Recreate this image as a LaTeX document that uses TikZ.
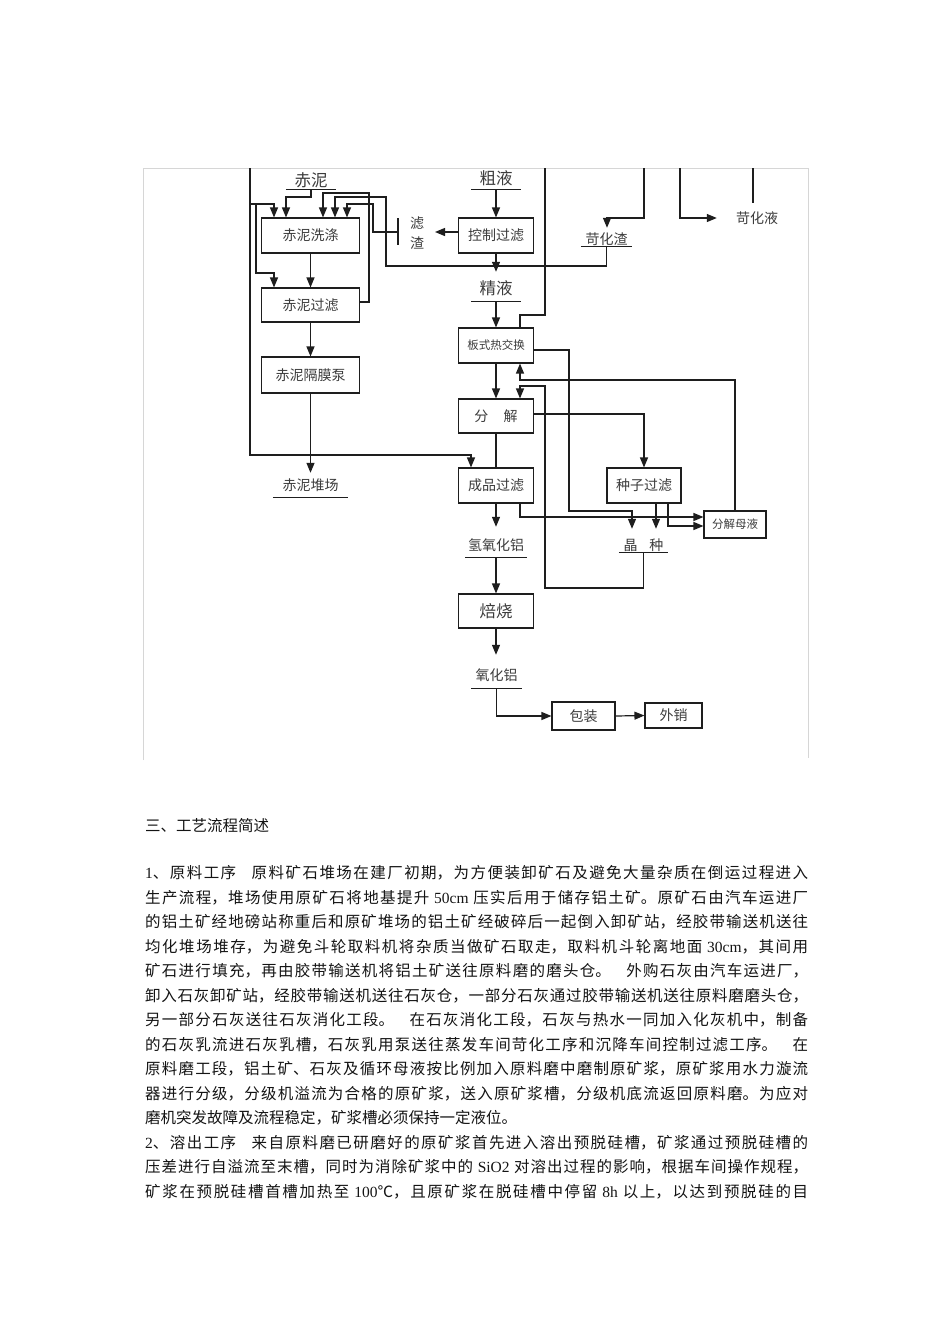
\documentclass[tikz,border=0pt]{standalone}
\usepackage{fontspec}
\setmainfont{Noto Sans CJK SC}
\newfontfamily\lat{Liberation Serif}
\usetikzlibrary{arrows.meta,calc}
\XeTeXlinebreaklocale "zh"
\XeTeXlinebreakskip=0pt plus 3pt minus 0.3pt
\definecolor{ln}{HTML}{1E1E1E}
\definecolor{tx}{HTML}{3C3C3C}
\definecolor{fr}{HTML}{D6D6D6}
\definecolor{bt}{HTML}{141414}
\newcommand{\jl}[1]{\noindent\rightskip=0pt\relax\parfillskip=0pt\relax #1\par}
\begin{document}
\begin{tikzpicture}[x=1pt,y=-1pt,
  every node/.style={inner sep=0pt, text=tx},
  box/.style={draw=ln, line width=1.1pt, font=\fontsize{14}{14}\selectfont},
  mid/.style={font=\fontsize{14}{14}\selectfont},
  big/.style={font=\fontsize{16.5}{16.5}\selectfont},
  small/.style={font=\fontsize{11.5}{11.5}\selectfont},
  ul/.style={append after command={(\tikzlastnode.south west) edge[draw=ln,line width=1.1pt] (\tikzlastnode.south east)}},
  con/.style={draw=ln, line width=1.2pt},
  arr/.style={con, -{Triangle[length=10pt,width=8pt]}},
  body/.style={anchor=west, text=bt, font=\fontsize{15.5}{15.5}\selectfont},
  jbody/.style={body, text width=663pt, align=justify}
]
\fill[white] (0,0) rectangle (950,1344);
\useasboundingbox (0,0) rectangle (950,1344);

% frame
\draw[fr, line width=1pt] (143,760) -- (143,168) -- (808,168) -- (808,758);

% free ends at the top
\coordinate (top1) at (250,168);
\coordinate (top2) at (545,168);
\coordinate (top3) at (644,168);
\coordinate (top4) at (680,168);
\coordinate (top5) at (753,168);
\coordinate (end5) at (753,203);
\coordinate (barT) at (398,218);
\coordinate (barB) at (398,245);
\coordinate (barM) at (398,232);
\coordinate (lzTip) at (435,232);

% labels
\node[ul, big, minimum width=50, minimum height=18] (chini) at (311,180) {赤泥};
\node[ul, big, minimum width=49, minimum height=22] (cuye) at (496,178) {粗液};
\node[ul, big, minimum width=49, minimum height=26] (jingye) at (496,288) {精液};
\node[ul, mid, minimum width=51, minimum height=14] (kehuazha) at (606.5,239) {苛化渣};
\node[mid] (kehuaye) at (757,218) {苛化液};
\node[mid, align=center, font=\fontsize{14}{20}\selectfont] (lvzha) at (417,233) {滤\\渣};
\node[ul, mid, minimum width=75, minimum height=24] (duichang) at (310.5,485) {赤泥堆场};
\node[ul, mid, minimum width=61, minimum height=24] (qyhl) at (496,545) {氢氧化铝};
\node[ul, mid, minimum width=49, minimum height=14] (jingzhong) at (643.5,545) {晶\hspace{0.85em}种};
\node[ul, mid, minimum width=50, minimum height=26] (yhl) at (496.5,675) {氧化铝};

% boxes
\node[box, minimum width=98, minimum height=35] (wash) at (310.5,235.5) {赤泥洗涤};
\node[box, minimum width=98, minimum height=34] (rfilt) at (310.5,305) {赤泥过滤};
\node[box, minimum width=98, minimum height=36] (pump) at (310.5,375) {赤泥隔膜泵};
\node[box, minimum width=75, minimum height=35] (ctrl) at (496,235.5) {控制过滤};
\node[box, small, minimum width=75, minimum height=35] (hex) at (496,345.5) {板式热交换};
\node[box, minimum width=75, minimum height=34] (dec) at (496,416) {分\hspace{1.1em}解};
\node[box, minimum width=75, minimum height=35] (prod) at (496,485.5) {成品过滤};
\node[box, minimum width=74, minimum height=35] (seed) at (644,485.5) {种子过滤};
\node[box, small, minimum width=62, minimum height=27] (mother) at (735,524.5) {分解母液};
\node[box, big, minimum width=75, minimum height=34] (calc) at (496,611) {焙烧};
\node[box, minimum width=63, minimum height=28] (pack) at (583.5,716) {包装};
\node[box, minimum width=57, minimum height=25] (sale) at (673.5,715.5) {外销};

% left part connectors
\draw[arr] (top1) -- (250,455) -| (prod.north -| 471,0);
\draw[arr] (250,204) -| (wash.north -| 274,0);
\draw[arr] (256,204) |- (274,273) -- (rfilt.north -| 274,0);
\draw[arr] (chini.south) -- (311,197) -| (wash.north -| 286,0);
\draw[arr] (rfilt.east |- 0,302) -| (369,193) -| (wash.north -| 323,0);
\draw[arr] (kehuazha.south) |- (386,266) |- (335,197) -- (wash.north -| 335,0);
\draw[con, line width=1.5pt] (barT) -- (barB);
\draw[arr] (barM) -| (373,204) -| (wash.north -| 347,0);
\draw[arr] (ctrl.west |- 0,232) -- (lzTip);
\draw[arr] (wash) -- (rfilt);
\draw[arr] (rfilt) -- (pump);
\draw[arr] (pump) -- (duichang);

% right column connectors
\draw[arr] (cuye.south) -- (ctrl.north);
\draw[arr, shorten >=3pt] (ctrl.south) -- (jingye.north);
\draw[arr] (jingye.south) -- (hex.north);
\draw[con] (top2) |- (520,315) -- (hex.north -| 520,0);
\draw[arr, shorten >=4pt] (top3) |- (607,218) -- (kehuazha.north -| 607,0);
\draw[arr, shorten >=19pt] (top4) |- (kehuaye.west);
\draw[con] (top5) -- (end5);
\draw[arr] (hex.south) -- (dec.north);
\draw[arr, shorten >=9pt] (hex.east |- 0,350) -| (569,511) -| (jingzhong.north -| 632,0);
\draw[arr] (mother.north) |- (520,380) -- (hex.south -| 520,0);
\draw[arr] (jingzhong.south) -- (643.5,588) -| (545,386) -| (dec.north -| 520,0);
\draw[arr] (dec.east |- 0,414) -| (seed.north);
\draw[con] (dec.south) -- (prod.north);
\draw[arr, shorten >=6pt] (prod.south) -- (qyhl.north);
\draw[arr] (prod.south -| 520,0) |- (mother.west |- 0,517);
\draw[arr] (seed.south -| 668,0) |- (mother.west |- 0,526);
\draw[arr, shorten >=9pt] (seed.south -| 656,0) -- (jingzhong.north -| 656,0);
\draw[arr] (qyhl.south) -- (calc.north);
\draw[arr, shorten >=7pt] (calc.south) -- (calc.south |- yhl.north);
\draw[arr] (yhl.south) |- (pack.west);
\draw[arr] (pack.east) -- (sale.west);

% body text
\node[body] (title) at (145,826) {三、工艺流程简述};
\node[jbody] (l1) at (145,873) {\jl{{\lat 1}、原料工序\hspace{1em}原料矿石堆场在建厂初期，为方便装卸矿石及避免大量杂质在倒运过程进入}};
\node[jbody] (l2) at (145,897.5) {\jl{生产流程，堆场使用原矿石将地基提升{\lat\ 50cm }压实后用于储存铝土矿。原矿石由汽车运进厂}};
\node[jbody] (l3) at (145,922) {\jl{的铝土矿经地磅站称重后和原矿堆场的铝土矿经破碎后一起倒入卸矿站，经胶带输送机送往}};
\node[jbody] (l4) at (145,946.5) {\jl{均化堆场堆存，为避免斗轮取料机将杂质当做矿石取走，取料机斗轮离地面{\lat\ 30cm}，其间用}};
\node[jbody] (l5) at (145,971) {\jl{矿石进行填充，再由胶带输送机将铝土矿送往原料磨的磨头仓。\hspace{1em}外购石灰由汽车运进厂，}};
\node[jbody] (l6) at (145,995.5) {\jl{卸入石灰卸矿站，经胶带输送机送往石灰仓，一部分石灰通过胶带输送机送往原料磨磨头仓，}};
\node[jbody] (l7) at (145,1020) {\jl{另一部分石灰送往石灰消化工段。\hspace{1em}在石灰消化工段，石灰与热水一同加入化灰机中，制备}};
\node[jbody] (l8) at (145,1044.5) {\jl{的石灰乳流进石灰乳槽，石灰乳用泵送往蒸发车间苛化工序和沉降车间控制过滤工序。\hspace{1em}在}};
\node[jbody] (l9) at (145,1069) {\jl{原料磨工段，铝土矿、石灰及循环母液按比例加入原料磨中磨制原矿浆，原矿浆用水力漩流}};
\node[jbody] (l10) at (145,1093.5) {\jl{器进行分级，分级机溢流为合格的原矿浆，送入原矿浆槽，分级机底流返回原料磨。为应对}};
\node[body] (l11) at (145,1118) {磨机突发故障及流程稳定，矿浆槽必须保持一定液位。};
\node[jbody] (l12) at (145,1142.5) {\jl{{\lat 2}、溶出工序\hspace{1em}来自原料磨已研磨好的原矿浆首先进入溶出预脱硅槽，矿浆通过预脱硅槽的}};
\node[jbody] (l13) at (145,1167) {\jl{压差进行自溢流至末槽，同时为消除矿浆中的{\lat\ SiO2 }对溶出过程的影响，根据车间操作规程，}};
\node[jbody] (l14) at (145,1191.5) {\jl{矿浆在预脱硅槽首槽加热至{\lat\ 100}℃，且原矿浆在脱硅槽中停留{\lat\ 8h }以上，以达到预脱硅的目}};
\end{tikzpicture}
\end{document}
